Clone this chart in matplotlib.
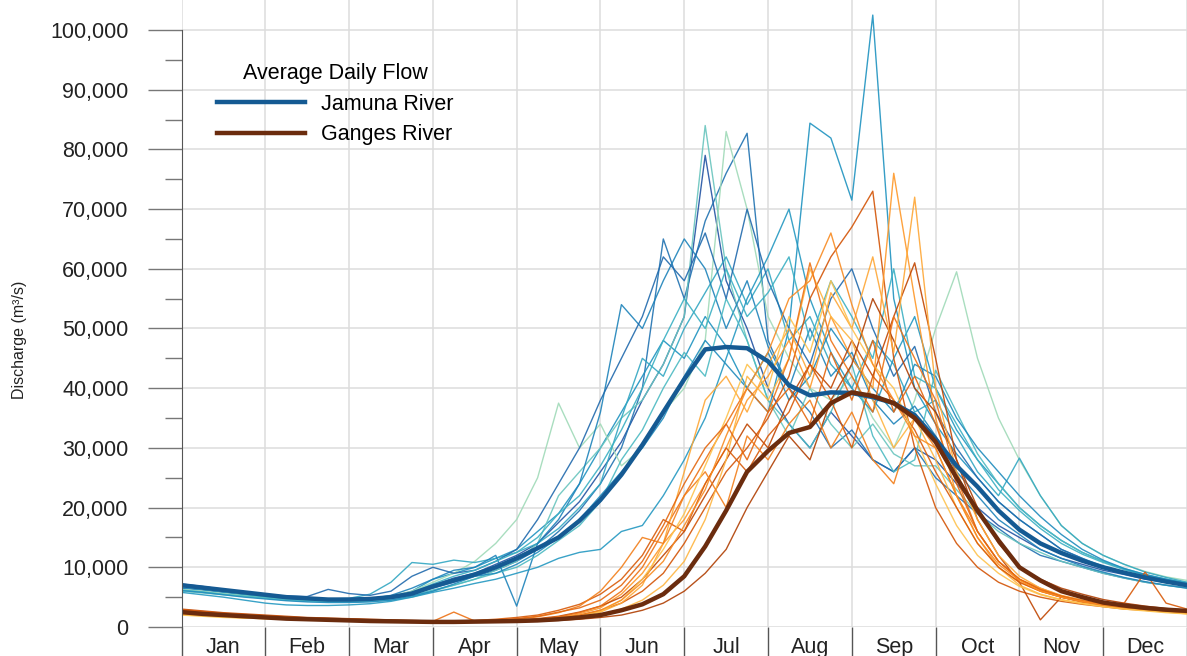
import matplotlib.pyplot as plt
import numpy as np
from matplotlib.ticker import FixedLocator, FuncFormatter

plt.rcParams['font.family'] = ['Liberation Sans', 'DejaVu Sans']

months = ['Jan', 'Feb', 'Mar', 'Apr', 'May', 'Jun',
          'Jul', 'Aug', 'Sep', 'Oct', 'Nov', 'Dec']

# sample dates in months from 1 Jan, every quarter month (49 points)
t = np.arange(49) / 4

# daily flow per year, thousand m3/s
jam_01 = [7.2, 6.8, 6.3, 5.9, 5.5, 5.1, 4.8, 4.6, 4.5, 4.6, 4.9, 5.6, 7.0, 8.2, 9.0, 10.5,
          12.0, 14.0, 17.5, 21.0, 26.0, 31.0, 38.0, 44.0, 52.0, 79.0, 58.0, 50.0,
          40.0, 34.0, 30.0, 36.0, 32.0, 28.0, 26.0, 30.0, 28.0, 24.0, 20.0, 17.0,
          15.0, 13.0, 11.5, 10.5, 9.5, 8.8, 8.0, 7.5, 7.0]
jam_02 = [6.5, 6.2, 5.8, 5.4, 5.0, 4.7, 4.5, 4.4, 4.4, 4.5, 4.8, 5.5, 6.5, 7.5, 8.5, 9.5,
          11.0, 13.0, 16.0, 19.5, 24.0, 30.0, 40.0, 65.0, 55.0, 68.0, 76.0, 82.7,
          48.0, 40.0, 36.0, 30.0, 33.0, 28.0, 26.0, 30.0, 25.0, 22.0, 19.0, 16.5,
          14.0, 12.0, 11.0, 10.0, 9.0, 8.2, 7.5, 7.0, 6.6]
jam_03 = [6.8, 6.4, 6.0, 5.6, 5.2, 4.9, 4.7, 4.6, 4.6, 4.7, 5.0, 6.0, 8.0, 9.0, 10.0, 11.5,
          13.0, 16.0, 19.0, 24.0, 30.0, 36.0, 42.0, 48.0, 45.0, 52.0, 47.0, 40.0,
          36.0, 50.0, 84.4, 81.9, 71.5, 102.5, 55.0, 40.0, 34.0, 29.0, 25.0, 21.0,
          18.0, 15.5, 13.0, 11.5, 10.2, 9.2, 8.4, 7.8, 7.2]
jam_04 = [6.0, 5.7, 5.4, 5.1, 4.8, 4.5, 4.3, 4.2, 4.2, 4.3, 4.5, 5.0, 6.0, 7.0, 8.0, 9.5,
          11.0, 14.0, 22.0, 26.0, 30.0, 35.0, 38.0, 44.0, 52.0, 84.0, 60.0, 48.0,
          38.0, 32.0, 40.0, 34.0, 30.0, 34.0, 29.0, 27.0, 27.0, 23.0, 19.0, 16.0,
          14.0, 12.5, 11.0, 10.0, 9.0, 8.2, 7.5, 7.0, 6.5]
jam_05 = [6.3, 6.0, 5.6, 5.3, 5.0, 4.8, 4.6, 4.5, 4.6, 4.8, 5.2, 6.0, 7.5, 9.0, 11.0, 14.0,
          18.0, 25.0, 37.5, 30.0, 34.0, 27.0, 30.0, 36.0, 40.0, 48.0, 83.0, 70.0,
          52.0, 45.0, 40.0, 38.0, 42.0, 35.0, 30.0, 38.0, 50.0, 59.5, 45.0, 35.0,
          28.0, 22.0, 17.0, 14.0, 12.0, 10.5, 9.3, 8.4, 7.8]
jam_06 = [6.9, 6.5, 6.1, 5.7, 5.3, 5.0, 4.8, 4.7, 4.8, 5.5, 7.5, 10.8, 10.5, 11.2, 10.8, 11.5,
          12.5, 14.0, 16.5, 20.0, 24.0, 35.0, 45.0, 42.0, 50.0, 56.0, 62.0, 54.0,
          60.0, 48.0, 52.0, 44.0, 40.0, 48.0, 44.0, 36.0, 38.0, 32.0, 26.0, 22.0,
          28.3, 22.0, 17.0, 14.0, 12.0, 10.5, 9.2, 8.3, 7.5]
jam_07 = [6.6, 6.3, 5.9, 5.5, 5.1, 4.8, 4.6, 4.5, 4.5, 4.7, 5.3, 6.5, 8.0, 9.5, 10.0, 12.0,
          3.5, 14.0, 18.0, 24.0, 36.0, 54.0, 50.0, 58.0, 65.0, 60.0, 50.0, 58.0,
          47.0, 40.0, 50.0, 42.0, 46.0, 38.0, 34.0, 37.0, 32.0, 26.0, 22.0, 18.0,
          15.5, 13.0, 11.5, 10.2, 9.2, 8.3, 7.6, 7.0, 6.5]
jam_08 = [5.8, 5.4, 5.0, 4.5, 4.0, 3.7, 3.6, 3.6, 3.7, 3.9, 4.3, 5.0, 5.8, 6.5, 7.3, 8.0,
          9.0, 10.0, 11.5, 12.5, 13.0, 16.0, 17.0, 22.0, 28.0, 35.0, 45.0, 55.0,
          62.0, 70.0, 55.0, 46.0, 40.0, 36.0, 45.0, 52.0, 40.0, 33.0, 28.0, 24.0,
          20.0, 17.0, 14.5, 12.5, 11.0, 9.7, 8.7, 7.9, 7.2]
jam_09 = [6.2, 5.9, 5.5, 5.2, 4.9, 4.6, 4.4, 4.3, 4.3, 4.4, 4.7, 5.3, 6.2, 7.0, 8.0, 9.0,
          10.0, 12.0, 14.5, 17.0, 21.0, 28.0, 33.0, 40.0, 46.0, 42.0, 55.0, 48.0,
          38.0, 34.0, 30.0, 36.0, 44.0, 32.0, 26.0, 28.0, 43.0, 36.0, 29.0, 24.0,
          20.0, 17.0, 14.5, 12.5, 11.0, 9.8, 8.8, 8.0, 7.4]
jam_10 = [7.0, 6.6, 6.2, 5.8, 5.4, 5.2, 5.1, 6.3, 5.6, 5.3, 6.0, 8.5, 10.0, 9.0, 9.5, 11.0,
          13.0, 18.0, 24.0, 30.0, 38.0, 45.0, 52.0, 62.0, 58.0, 66.0, 55.0, 70.0,
          58.0, 50.0, 44.0, 55.0, 60.0, 50.0, 42.0, 47.0, 36.0, 30.0, 25.0, 21.0,
          18.0, 15.5, 13.0, 11.5, 10.0, 9.0, 8.2, 7.5, 7.0]
jam_11 = [6.7, 6.3, 5.9, 5.5, 5.1, 4.8, 4.6, 4.5, 4.5, 4.6, 5.0, 5.8, 7.2, 8.5, 9.5, 11.0,
          12.5, 15.0, 19.0, 22.0, 27.0, 33.0, 40.0, 48.0, 55.0, 50.0, 60.0, 52.0,
          56.0, 62.0, 48.0, 58.0, 52.0, 45.0, 60.0, 42.0, 40.0, 34.0, 28.0, 23.0,
          19.5, 16.5, 14.0, 12.2, 10.8, 9.6, 8.7, 8.0, 7.4]
jam_12 = [6.1, 5.8, 5.4, 5.0, 4.7, 4.4, 4.2, 4.1, 4.1, 4.2, 4.5, 5.2, 6.0, 7.2, 8.5, 9.0,
          10.5, 12.5, 15.0, 18.0, 22.0, 26.0, 30.0, 35.0, 42.0, 48.0, 44.0, 40.0,
          46.0, 38.0, 42.0, 50.0, 45.0, 40.0, 36.0, 44.0, 42.0, 35.0, 30.0, 26.0,
          22.0, 18.5, 15.5, 13.0, 11.2, 9.8, 8.8, 8.0, 7.3]

gan_01 = [2.8, 2.5, 2.2, 2.0, 1.8, 1.6, 1.4, 1.3, 1.2, 1.1, 1.0, 0.95, 0.9, 0.9, 0.95, 1.0,
          1.1, 1.3, 1.6, 2.0, 2.8, 4.0, 6.0, 9.0, 14.0, 20.0, 26.0, 30.0,
          35.0, 42.0, 55.0, 62.0, 67.0, 73.0, 45.0, 30.0, 20.0, 14.0, 10.0, 7.5,
          6.0, 5.0, 4.3, 3.8, 3.4, 3.0, 2.8, 2.6, 2.5]
gan_02 = [2.3, 2.1, 1.9, 1.7, 1.5, 1.4, 1.3, 1.2, 1.1, 1.0, 0.9, 0.85, 0.8, 0.8, 0.85, 0.9,
          1.0, 1.2, 1.5, 2.2, 3.2, 5.5, 9.0, 14.0, 18.0, 24.0, 30.0, 38.0,
          42.0, 48.0, 40.0, 52.0, 45.0, 40.0, 76.0, 55.0, 35.0, 22.0, 15.0, 10.0,
          7.5, 6.0, 5.0, 4.3, 3.8, 3.3, 3.0, 2.7, 2.4]
gan_03 = [3.0, 2.7, 2.4, 2.2, 2.0, 1.8, 1.6, 1.5, 1.4, 1.3, 1.2, 1.1, 1.0, 1.0, 1.0, 1.1,
          1.2, 1.4, 1.8, 2.5, 3.5, 5.0, 8.0, 12.0, 16.0, 22.0, 28.0, 34.0,
          30.0, 38.0, 44.0, 40.0, 48.0, 42.0, 52.0, 61.0, 45.0, 28.0, 18.0, 12.0,
          7.5, 1.2, 5.0, 4.2, 3.9, 3.4, 3.0, 2.8, 2.6]
gan_04 = [2.1, 1.9, 1.7, 1.5, 1.4, 1.3, 1.2, 1.1, 1.0, 0.95, 0.9, 0.85, 0.8, 0.8, 0.8, 0.85,
          0.9, 1.0, 1.2, 1.5, 2.0, 3.0, 4.5, 7.0, 11.0, 18.0, 28.0, 42.0,
          38.0, 45.0, 60.0, 52.0, 48.0, 38.0, 30.0, 35.0, 28.0, 20.0, 14.0, 10.0,
          7.0, 5.5, 4.6, 4.0, 3.5, 3.1, 2.8, 2.5, 2.2]
gan_05 = [2.6, 2.4, 2.1, 1.9, 1.7, 1.5, 1.4, 1.3, 1.2, 1.1, 1.0, 1.0, 0.95, 2.5, 1.0, 1.0,
          1.1, 1.3, 1.7, 2.4, 3.5, 6.0, 10.0, 16.0, 22.0, 28.0, 34.0, 40.0,
          36.0, 45.0, 61.0, 48.0, 42.0, 36.0, 52.0, 45.0, 38.0, 25.0, 16.0, 11.0,
          8.0, 6.5, 5.2, 4.5, 3.9, 3.4, 3.1, 2.8, 2.5]
gan_06 = [2.4, 2.2, 2.0, 1.8, 1.6, 1.5, 1.4, 1.3, 1.2, 1.1, 1.0, 0.95, 0.9, 0.85, 0.85, 0.9,
          0.95, 1.0, 1.1, 1.3, 1.6, 2.0, 2.8, 4.0, 6.0, 9.0, 13.0, 20.0,
          26.0, 32.0, 28.0, 38.0, 44.0, 55.0, 48.0, 40.0, 36.0, 28.0, 20.0, 14.0,
          10.0, 8.0, 6.5, 5.5, 4.6, 4.0, 3.5, 3.1, 2.8]
gan_07 = [2.2, 2.0, 1.8, 1.6, 1.5, 1.4, 1.3, 1.2, 1.1, 1.0, 0.95, 0.9, 0.85, 0.85, 0.9, 0.95,
          1.0, 1.2, 1.4, 1.8, 2.5, 4.0, 7.0, 14.0, 26.0, 38.0, 42.0, 36.0,
          44.0, 50.0, 42.0, 56.0, 50.0, 62.0, 46.0, 72.0, 40.0, 26.0, 18.0, 12.0,
          8.5, 6.5, 5.3, 4.5, 3.9, 3.4, 3.0, 2.7, 2.4]
gan_08 = [2.9, 2.6, 2.3, 2.1, 1.9, 1.7, 1.5, 1.4, 1.3, 1.2, 1.1, 1.05, 1.0, 1.0, 1.1, 1.3,
          1.6, 2.0, 2.8, 3.8, 5.5, 8.0, 12.0, 18.0, 16.0, 24.0, 30.0, 26.0,
          32.0, 36.0, 44.0, 38.0, 30.0, 42.0, 38.0, 33.0, 26.0, 20.0, 14.0, 10.0,
          7.5, 6.0, 5.0, 4.3, 3.8, 4.0, 9.2, 4.0, 3.0]
gan_09 = [2.5, 2.3, 2.1, 1.9, 1.7, 1.5, 1.4, 1.3, 1.2, 1.1, 1.0, 1.0, 0.95, 0.95, 1.0, 1.1,
          1.3, 1.7, 2.4, 3.5, 6.0, 10.0, 15.0, 14.0, 22.0, 26.0, 20.0, 32.0,
          28.0, 34.0, 38.0, 30.0, 36.0, 28.0, 24.0, 35.0, 30.0, 22.0, 16.0, 11.0,
          8.0, 6.2, 5.0, 4.2, 3.6, 3.2, 2.9, 2.6, 2.4]
gan_10 = [2.0, 1.8, 1.6, 1.5, 1.4, 1.3, 1.2, 1.1, 1.0, 0.9, 0.85, 0.8, 0.75, 0.75, 0.8, 0.85,
          0.9, 1.0, 1.3, 1.8, 2.6, 4.5, 8.0, 13.0, 19.0, 27.0, 35.0, 44.0,
          40.0, 52.0, 46.0, 58.0, 50.0, 44.0, 40.0, 32.0, 24.0, 17.0, 12.0, 9.0,
          6.8, 5.4, 4.5, 3.9, 3.4, 3.0, 2.7, 2.4, 2.2]
gan_11 = [2.7, 2.4, 2.2, 2.0, 1.8, 1.6, 1.5, 1.4, 1.3, 1.2, 1.1, 1.0, 1.0, 1.0, 1.05, 1.2,
          1.4, 1.8, 2.5, 3.2, 4.5, 7.0, 11.0, 17.0, 24.0, 30.0, 34.0, 28.0,
          36.0, 40.0, 34.0, 46.0, 38.0, 48.0, 36.0, 42.0, 34.0, 24.0, 16.0, 11.0,
          8.0, 6.3, 5.2, 4.4, 3.8, 3.4, 3.0, 2.7, 2.5]
gan_12 = [2.2, 2.0, 1.8, 1.7, 1.5, 1.4, 1.3, 1.2, 1.1, 1.0, 0.95, 0.9, 0.85, 0.85, 0.9, 0.95,
          1.0, 1.1, 1.4, 1.9, 2.8, 4.5, 7.5, 11.0, 17.0, 23.0, 32.0, 40.0,
          46.0, 55.0, 58.0, 66.0, 54.0, 44.0, 38.0, 32.0, 30.0, 22.0, 15.0, 10.5,
          7.8, 6.0, 5.0, 4.3, 3.7, 3.3, 3.0, 2.7, 2.4]

# average daily flow over all years, thousand m3/s
jamuna_avg = [7.0, 6.6, 6.2, 5.8, 5.4, 5.0, 4.8, 4.6, 4.6, 4.7, 5.0, 5.6, 6.8, 7.8, 8.8, 10.0,
              11.5, 13.2, 15.0, 17.8, 21.3, 25.5, 30.5, 36.0, 41.5, 46.5, 46.9, 46.7,
              44.5, 40.5, 38.8, 39.3, 39.2, 38.5, 37.5, 35.5, 31.5, 27.0, 23.5, 19.5,
              16.3, 14.0, 12.4, 11.1, 10.0, 9.1, 8.3, 7.6, 7.0]
ganges_avg = [2.5, 2.2, 2.0, 1.8, 1.6, 1.4, 1.3, 1.2, 1.1, 1.0, 0.95, 0.9, 0.85, 0.85, 0.9, 0.95,
              1.0, 1.1, 1.3, 1.6, 2.0, 2.8, 3.8, 5.5, 8.5, 13.5, 19.5, 26.0,
              29.5, 32.5, 33.5, 37.5, 39.3, 38.7, 37.5, 35.0, 31.0, 25.0, 19.5, 14.5,
              10.0, 7.8, 6.0, 5.0, 4.1, 3.6, 3.2, 2.9, 2.7]

jamuna_years = [jam_01, jam_02, jam_03, jam_04, jam_05, jam_06,
                jam_07, jam_08, jam_09, jam_10, jam_11, jam_12]
ganges_years = [gan_01, gan_02, gan_03, gan_04, gan_05, gan_06,
                gan_07, gan_08, gan_09, gan_10, gan_11, gan_12]
jam_shades = [0.78, 0.70, 0.62, 0.42, 0.32, 0.55, 0.66, 0.60, 0.48, 0.72, 0.52, 0.64]
gan_shades = [0.72, 0.50, 0.78, 0.42, 0.62, 0.82, 0.46, 0.70, 0.58, 0.38, 0.66, 0.54]

fig = plt.figure(figsize=(11.87, 6.56), dpi=100)
ax = fig.add_axes([181.5 / 1187, 29 / 656, 1 - 181.5 / 1187, 627 / 656])

for vals, s in zip(jamuna_years, jam_shades):
    ax.plot(t, np.array(vals) * 1000, color=plt.cm.YlGnBu(s), lw=1.0, alpha=0.9)
for vals, s in zip(ganges_years, gan_shades):
    ax.plot(t, np.array(vals) * 1000, color=plt.cm.YlOrBr(s), lw=1.0, alpha=0.9)

ax.plot(t, np.array(jamuna_avg) * 1000, color='#155a93', lw=3.2, label='Jamuna River')
ax.plot(t, np.array(ganges_avg) * 1000, color='#6b2c0e', lw=3.2, label='Ganges River')

ax.set_xlim(0, (1187 - 181.5) / 84.73)
ax.set_ylim(0, 105025)

# month boundaries as ticks, names centred between them
ax.set_xticks(np.arange(13))
ax.set_xticklabels([])
ax.set_xticks(np.arange(12) + 0.5, minor=True)
ax.set_xticklabels(months, minor=True)
ax.tick_params(axis='x', which='major', length=21, width=1, color='#555555')
ax.tick_params(axis='x', which='minor', length=0, pad=7, labelsize=15.5, labelcolor='#222222')

ax.set_yticks(np.arange(0, 100001, 10000))
ax.yaxis.set_minor_locator(FixedLocator(np.arange(5000, 100000, 10000)))
ax.yaxis.set_major_formatter(FuncFormatter(lambda v, p: f'{v:,.0f}'))
ax.tick_params(axis='y', which='major', length=24.5, width=1, pad=13.5, color='#777777',
               labelsize=15.5, labelcolor='#222222')
ax.tick_params(axis='y', which='minor', length=12, width=1, color='#777777')

ax.grid(True, which='major', color='#dddddd', lw=1.1)
ax.set_axisbelow(True)
for side in ['top', 'right', 'bottom']:
    ax.spines[side].set_visible(False)
ax.spines['left'].set_color('#555555')
ax.spines['left'].set_bounds(0, 100000)

fig.text(20 / 1187, 1 - 340 / 656, 'Discharge (m³/s)', rotation=90,
         ha='center', va='center', fontsize=11.5, color='#222222')

leg = ax.legend(title='Average Daily Flow', loc='upper left', frameon=False,
                bbox_to_anchor=(217 / 1187, 1 - 63 / 656), bbox_transform=fig.transFigure,
                fontsize=15.5, title_fontsize=15.5, handlelength=4.1, handletextpad=0.75,
                labelspacing=0.45, borderpad=0, borderaxespad=0)
for line in leg.get_lines():
    line.set_linewidth(3.2)

fig.savefig('out.png', dpi=100)
